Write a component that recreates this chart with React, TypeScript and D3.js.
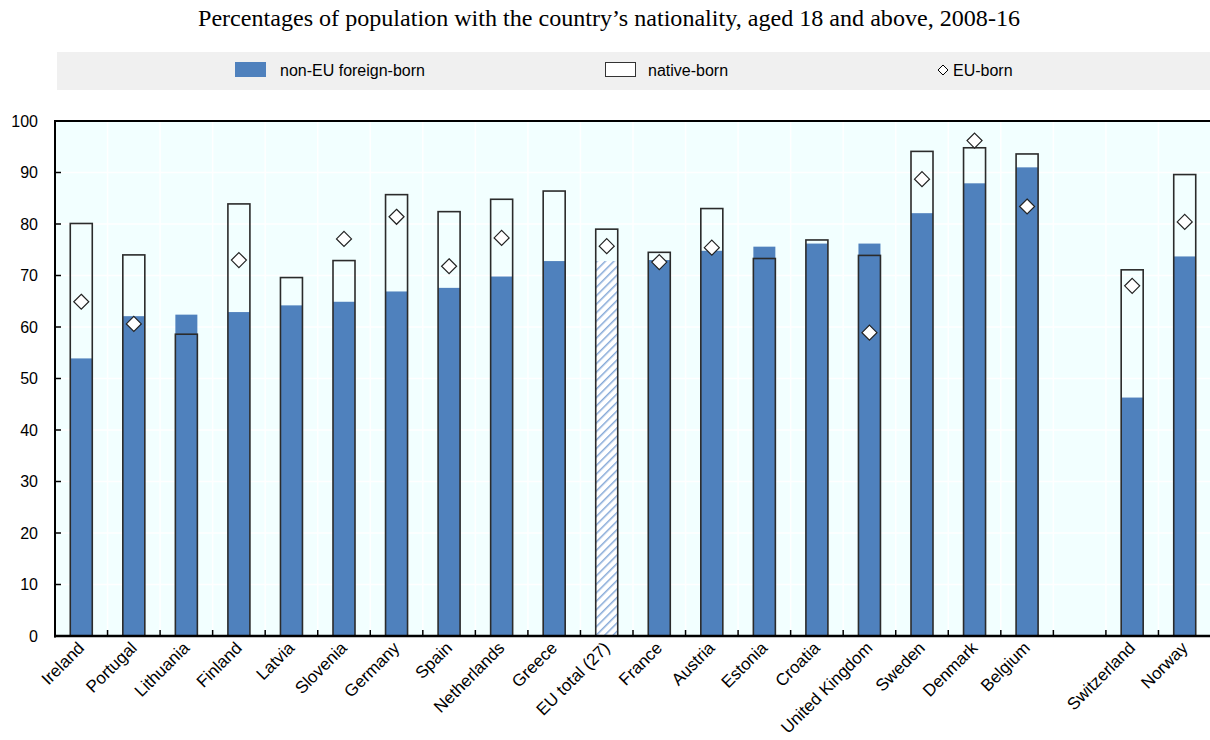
import React from "react";
import * as d3 from "d3";

const categories = ["Ireland","Portugal","Lithuania","Finland","Latvia","Slovenia","Germany","Spain","Netherlands","Greece","EU total (27)","France","Austria","Estonia","Croatia","United Kingdom","Sweden","Denmark","Belgium","","Switzerland","Norway"];
const nonEU: (number|null)[] = [53.9,62.1,62.4,62.9,64.2,64.9,66.9,67.6,69.8,72.8,72.8,73.0,74.8,75.6,76.2,76.2,82.1,87.9,91.0,null,46.3,73.7];
const native: (number|null)[] = [80.1,74.0,58.6,83.9,69.6,72.9,85.7,82.4,84.8,86.4,79.0,74.5,83.0,73.3,76.9,73.9,94.1,94.8,93.6,null,71.1,89.6];
const euBorn: (number|null)[] = [64.9,60.6,null,73.0,null,77.1,81.4,71.8,77.3,null,75.7,72.6,75.4,null,null,58.9,88.7,96.2,83.4,null,68.0,80.4];
const yTicks = [0,10,20,30,40,50,60,70,80,90,100];
const title = "Percentages of population with the country\u2019s nationality, aged 18 and above, 2008-16";
const legendLabels = ["non-EU foreign-born","native-born","EU-born"];

const BLUE = "#4f81bd";
const BG = "#f2ffff";
const SANS = "'Liberation Sans', Arial, sans-serif";

export default function App() {
  const left = 55, right = 1211, top = 121, bottom = 636;
  const keys = categories.map((c, i) => (c === "" ? "_gap" + i : c));
  const x = d3.scaleBand<string>().domain(keys).range([left, right]).padding(0);
  const y = d3.scaleLinear().domain([0, 100]).range([bottom, top]);
  const step = x.step();
  const bw = 22;
  const cx = (i: number) => (x(keys[i]) as number) + step / 2;
  const diamond = (px: number, py: number, r: number) =>
    `M${px},${py - r}L${px + r},${py}L${px},${py + r}L${px - r},${py}Z`;

  return (
    <div style={{ position: "absolute", left: 0, top: 0 }}>
      <svg width={1210} height={740} style={{ display: "block" }}>
        <defs>
          <pattern id="hatch" width="6" height="6" patternUnits="userSpaceOnUse" patternTransform="rotate(45)">
            <rect width="6" height="6" fill="#ffffff" />
            <line x1="0" y1="0" x2="0" y2="6" stroke="#86a9d8" strokeWidth="3" />
          </pattern>
        </defs>
        <rect x={0} y={0} width={1210} height={740} fill="#ffffff" />
        <text x={609} y={26} textAnchor="middle" fontFamily="'Liberation Serif', 'Times New Roman', serif" fontSize={24} textLength={822} lengthAdjust="spacingAndGlyphs" fill="#000">{title}</text>
        {/* legend band */}
        <rect x={57} y={52} width={1153} height={38} fill="#f0f0f0" />
        <rect x={235} y={62} width={31} height={15} fill={BLUE} />
        <text x={280} y={76} fontFamily={SANS} fontSize={16} fill="#000">{legendLabels[0]}</text>
        <rect x={605.5} y={62.5} width={30} height={14} fill="#ffffff" stroke="#333" strokeWidth={1} />
        <text x={648} y={76} fontFamily={SANS} fontSize={16} fill="#000">{legendLabels[1]}</text>
        <path d={diamond(943, 70, 5)} fill="#fff" stroke="#000" strokeWidth={1} />
        <text x={953} y={76} fontFamily={SANS} fontSize={16} fill="#000">{legendLabels[2]}</text>

        {/* plot background */}
        <rect x={left} y={top} width={1210 - left} height={bottom - top} fill={BG} />
        {yTicks.map((t) => (
          <line key={"hg" + t} x1={left} x2={1210} y1={y(t)} y2={y(t)} stroke="#ffffff" strokeWidth={1.5} />
        ))}
        {keys.map((k, i) => i > 0 && (
          <line key={"vg" + i} x1={x(k) as number} x2={x(k) as number} y1={top} y2={bottom} stroke="#ffffff" strokeWidth={1.5} />
        ))}

        {/* bars */}
        {keys.map((k, i) => {
          const v = nonEU[i];
          if (v == null) return null;
          const isEU = categories[i] === "EU total (27)";
          return (
            <rect key={"b" + i} x={cx(i) - bw / 2} y={y(v)} width={bw} height={y(0) - y(v)} fill={isEU ? "url(#hatch)" : BLUE} />
          );
        })}
        {keys.map((k, i) => {
          const v = native[i];
          if (v == null) return null;
          return (
            <rect key={"n" + i} x={cx(i) - bw / 2} y={y(v)} width={bw} height={y(0) - y(v)} fill="none" stroke="#2b2b2b" strokeWidth={1.6} />
          );
        })}
        {keys.map((k, i) => {
          const v = euBorn[i];
          if (v == null) return null;
          return <path key={"d" + i} d={diamond(cx(i), y(v), 7.5)} fill="#ffffff" stroke="#222" strokeWidth={1.2} />;
        })}

        {/* axes */}
        <line x1={left} x2={1210} y1={top} y2={top} stroke="#000" strokeWidth={2} />
        <line x1={left} x2={left} y1={top - 1} y2={bottom + 1.5} stroke="#000" strokeWidth={2} />
        <line x1={left - 1} x2={1210} y1={bottom} y2={bottom} stroke="#000" strokeWidth={2.5} />
        {yTicks.map((t) => (
          <g key={"yt" + t}>
            <line x1={left} x2={left + 6} y1={y(t)} y2={y(t)} stroke="#000" strokeWidth={1.5} />
            <text x={38} y={y(t) + 5.5} textAnchor="end" fontFamily={SANS} fontSize={16} fill="#000">{t}</text>
          </g>
        ))}
        {keys.map((k, i) => i > 0 && (
          <line key={"xt" + i} x1={x(k) as number} x2={x(k) as number} y1={bottom} y2={bottom - 6} stroke="#000" strokeWidth={1.5} />
        ))}
        {categories.map((c, i) => c !== "" && (
          <text key={"xl" + i} transform={`translate(${cx(i) + 4},${bottom + 13}) rotate(-45)`} textAnchor="end" fontFamily={SANS} fontSize={17} fill="#000">{c}</text>
        ))}
      </svg>
    </div>
  );
}
